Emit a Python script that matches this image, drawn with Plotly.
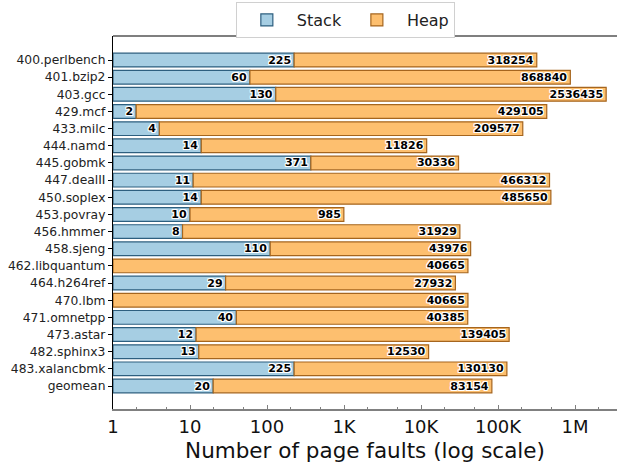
import plotly.graph_objects as go

# SPEC CPU2006 benchmarks and their page-fault counts
benchmarks = [
    "400.perlbench", "401.bzip2", "403.gcc", "429.mcf", "433.milc",
    "444.namd", "445.gobmk", "447.dealII", "450.soplex", "453.povray",
    "456.hmmer", "458.sjeng", "462.libquantum", "464.h264ref", "470.lbm",
    "471.omnetpp", "473.astar", "482.sphinx3", "483.xalancbmk", "geomean",
]
stack_faults = [225, 60, 130, 2, 4, 14, 371, 11, 14, 10,
                8, 110, 0, 29, 0, 40, 12, 13, 225, 20]
heap_faults = [318254, 868840, 2536435, 429105, 209577, 11826, 30336, 466312,
               485650, 985, 31929, 43976, 40665, 27932, 40665, 40385, 139405,
               12530, 130130, 83154]

tick_vals = [1, 10, 100, 1e3, 1e4, 1e5, 1e6]
tick_text = ["1", "10", "100", "1K", "10K", "100K", "1M"]

STACK_FILL, STACK_EDGE = "#a6cee3", "#2d5f7f"
HEAP_FILL, HEAP_EDGE = "#fdbf6f", "#a5651e"

outline = ("1px 0 0 #fff, -1px 0 0 #fff, 0 1px 0 #fff, 0 -1px 0 #fff, "
           "1px 1px 0 #fff, -1px -1px 0 #fff, 1px -1px 0 #fff, -1px 1px 0 #fff")
label_font = dict(family="DejaVu Sans", size=11, color="black",
                  weight="bold", shadow=outline)

# bars start at 1 on the log axis; heap bars are stacked after the stack bars
stack_len = [s - 1 if s > 0 else None for s in stack_faults]
stack_txt = [str(s) if s > 0 else "" for s in stack_faults]
heap_base = [s if s > 0 else 1 for s in stack_faults]

fig = go.Figure()
fig.add_trace(go.Bar(
    name="Stack", orientation="h", y=benchmarks, x=stack_len, base=1,
    width=0.8, marker=dict(color=STACK_FILL, line=dict(color=STACK_EDGE, width=1.2)),
    text=stack_txt, textposition="inside", insidetextanchor="end", textangle=0,
    constraintext="none", textfont=label_font, cliponaxis=False,
))
fig.add_trace(go.Bar(
    name="Heap", orientation="h", y=benchmarks, x=heap_faults, base=heap_base,
    width=0.8, marker=dict(color=HEAP_FILL, line=dict(color=HEAP_EDGE, width=1.2)),
    text=[str(h) for h in heap_faults], textposition="inside", insidetextanchor="end",
    textangle=0, constraintext="none", textfont=label_font, cliponaxis=False,
))

fig.update_layout(
    width=626, height=463,
    margin=dict(l=113, r=9, t=36, b=54, autoexpand=False),
    barmode="overlay",
    plot_bgcolor="white", paper_bgcolor="white",
    font=dict(family="DejaVu Sans", color="#222"),
    legend=dict(
        orientation="h", x=0.461, xanchor="center", y=1.091, yanchor="top",
        font=dict(size=16, color="#222"), bgcolor="white",
        bordercolor="#d0d0d0", borderwidth=1, itemwidth=50,
    ),
    xaxis=dict(
        type="log", range=[0, 6.545],
        tickvals=tick_vals, ticktext=tick_text,
        tickfont=dict(size=18, color="#111"),
        showline=True, linecolor="#808080", linewidth=1.5,
        ticks="inside", ticklen=4, tickcolor="#808080",
        minor=dict(ticks="inside", ticklen=2, tickcolor="#808080", showgrid=False),
        showgrid=False, zeroline=False, ticklabelstandoff=1,
        automargin=False,
        title=dict(text="Number of page faults (log scale)",
                   font=dict(size=21.5, color="#111"), standoff=10),
    ),
    yaxis=dict(
        type="category", range=[20.34, -1.40],
        showline=True, linecolor="black", linewidth=1.2,
        ticks="outside", ticklen=4, tickcolor="black",
        tickfont=dict(size=12.3, color="#222"),
        showgrid=False, zeroline=False, automargin=False,
    ),
    shapes=[dict(type="line", xref="paper", yref="paper", x0=0, x1=1, y0=1, y1=1,
                 line=dict(color="black", width=1.2))],
)

fig.write_html("out.html")
